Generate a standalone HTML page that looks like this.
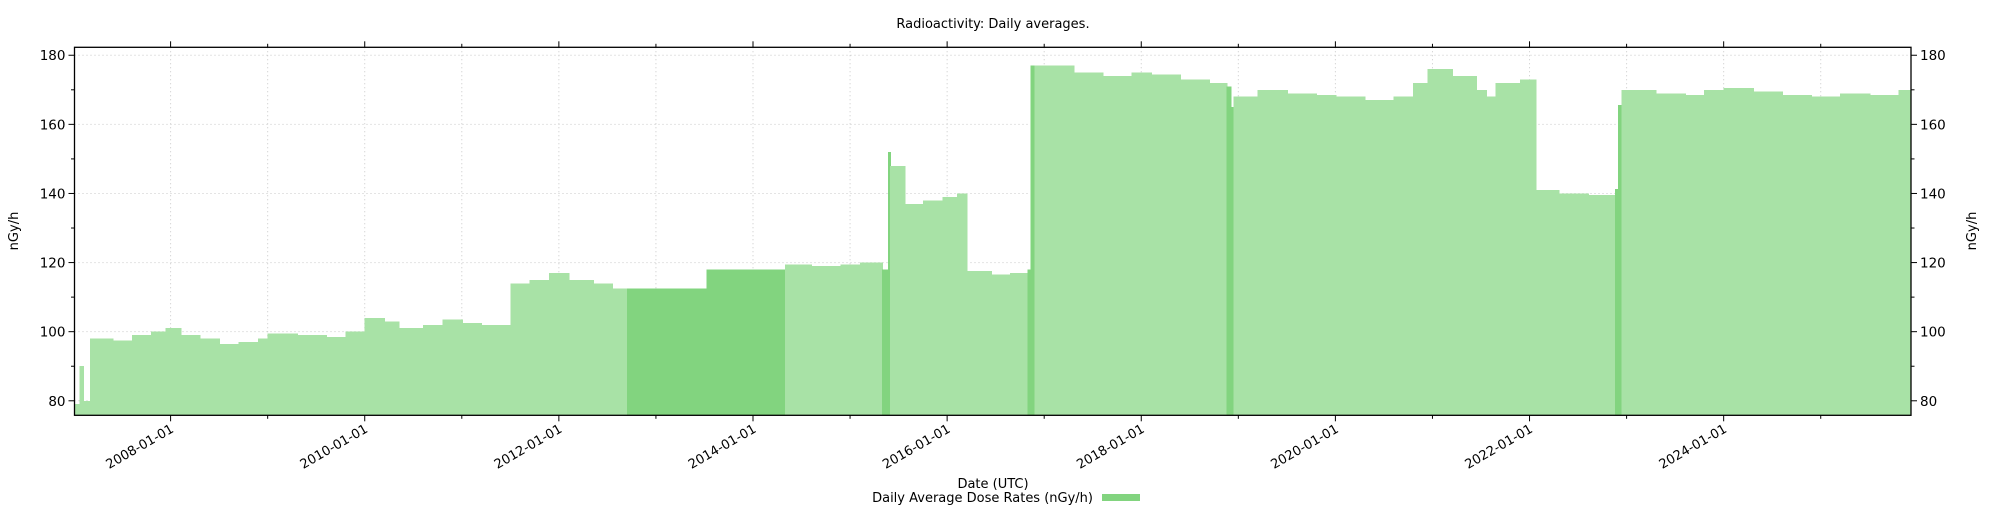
<!DOCTYPE html>
<html><head><meta charset="utf-8">
<style>
html,body{margin:0;padding:0;background:#fff;}
svg{display:block;}
text{font-family:"DejaVu Sans","Liberation Sans",sans-serif;fill:#000;}
</style></head>
<body>
<svg id="chart" width="2000" height="512" xmlns="http://www.w3.org/2000/svg">
<text x="993" y="28" font-size="13" text-anchor="middle">Radioactivity: Daily averages.</text>
<g id="grid"></g>
<g id="bars" shape-rendering="crispEdges"></g>
<g id="axes"></g>
<text transform="translate(18,231) rotate(-90)" font-size="13" text-anchor="middle">nGy/h</text>
<text transform="translate(1976,231) rotate(-90)" font-size="13" text-anchor="middle">nGy/h</text>
<text x="993" y="488" font-size="13" text-anchor="middle">Date (UTC)</text>
<g>
<text x="1093" y="502" font-size="13" text-anchor="end">Daily Average Dose Rates (nGy/h)</text>
<rect x="1102" y="494" width="38" height="7" fill="#82d47f"></rect>
</g>
</svg>
<script>
const segStart = [2007.00,2007.06,2007.10,2007.17,2007.4,2007.6,2007.8,2007.95,2008.1,2008.3,2008.5,2008.7,2008.9,2009.0,2009.3,2009.6,2009.8,2010.0,2010.2,2010.35,2010.6,2010.8,2011.0,2011.2,2011.5,2011.7,2011.9,2012.1,2012.35,2012.55,2012.70,2013.52,2014.33,2014.6,2014.9,2015.1,2015.33,2015.39,2015.41,2015.56,2015.75,2015.95,2016.1,2016.2,2016.45,2016.65,2016.83,2016.86,2016.90,2017.1,2017.3,2017.6,2017.9,2018.1,2018.4,2018.7,2018.88,2018.92,2018.95,2019.2,2019.5,2019.8,2020.0,2020.3,2020.6,2020.8,2020.95,2021.2,2021.45,2021.55,2021.65,2021.9,2022.06,2022.3,2022.6,2022.88,2022.91,2022.95,2023.3,2023.6,2023.8,2024.0,2024.3,2024.6,2024.9,2025.2,2025.5,2025.8];
const segValue = [79,90,80,98,97.5,99,100,101,99,98,96.5,97,98,99.5,99,98.5,100,104,103,101,102,103.5,102.5,102,114,115,117,115,114,112.5,112.5,118,119.5,119,119.5,120,118,152,148,137,138,139,140,117.5,116.5,117,118,177,177,177,175,174,175,174.5,173,172,171,165,168,170,169,168.5,168,167,168,172,176,174,170,168,172,173,141,140,139.5,141.3,165.6,170,169,168.5,170,170.5,169.5,168.5,168,169,168.5,170];
const segKind = ["l","l","l","l","l","l","l","l","l","l","l","l","l","l","l","l","l","l","l","l","l","l","l","l","l","l","l","l","l","l","d","d","l","l","l","l","d","d","l","l","l","l","l","l","l","l","d","d","l","l","l","l","l","l","l","l","d","d","l","l","l","l","l","l","l","l","l","l","l","l","l","l","l","l","l","d","d","l","l","l","l","l","l","l","l","l","l","l"];
const seriesEnd = 2025.93;
const yTicks = [80,100,120,140,160,180];
const yMinorTicks = [90,110,130,150,170];
const xTickYears = [2008,2010,2012,2014,2016,2018,2020,2022,2024];
const xTickLabels = ["2008-01-01","2010-01-01","2012-01-01","2014-01-01","2016-01-01","2018-01-01","2020-01-01","2022-01-01","2024-01-01"];
const xMinorYears = [2009,2011,2013,2015,2017,2019,2021,2023,2025];

const L=74.5,R=1911,T=47.3,B=415.3;
const xMin=2007.01, xMax=2025.93, yMin=75.8, yMax=182.3;
const x=v=>L+(v-xMin)/(xMax-xMin)*(R-L);
const y=v=>B-(v-yMin)/(yMax-yMin)*(B-T);
const NS="http://www.w3.org/2000/svg";
function mk(tag,attrs,parent){const e=document.createElementNS(NS,tag);for(const k in attrs)e.setAttribute(k,attrs[k]);parent.appendChild(e);return e;}
const grid=document.getElementById('grid'),bars=document.getElementById('bars'),axes=document.getElementById('axes');

yTicks.forEach(v=>{
  const g=mk('line',{x1:L,x2:R,y1:y(v),y2:y(v),stroke:'#c8c8c8','stroke-width':1,'stroke-dasharray':'1,3'},grid);
  
  
});
xTickYears.concat(xMinorYears).forEach(v=>{
  if(x(v)>R)return;
  const g=mk('line',{x1:x(v),x2:x(v),y1:T,y2:B,stroke:'#c8c8c8','stroke-width':1,'stroke-dasharray':'1,3'},grid);
  
  
});

for(let i=0;i<segStart.length;i++){
  const s=Math.max(segStart[i],xMin), e=(i+1<segStart.length?segStart[i+1]:seriesEnd);
  const x0=x(s), x1=x(e), yt=y(segValue[i]);
  const w=(i+1<segStart.length)?Math.max(x1-x0+1,1.5):Math.max(x1-x0,1);
  const r=mk('rect',{x:x0,y:yt,width:w,height:B-yt,fill:segKind[i]==='d'?'#82d47f':'#a8e2a6'},bars);
  
  
}
// redraw dark bars on top so overlaps don't hide them
for(let i=0;i<segStart.length;i++){
  if(segKind[i]!=='d')continue;
  const x0=x(segStart[i]), x1=x(segStart[i+1]), yt=y(segValue[i]);
  const r=mk('rect',{x:x0,y:yt,width:Math.max(x1-x0,1.5),height:B-yt,fill:'#82d47f'},bars);
  
  
}

const frame=mk('rect',{x:L,y:T,width:R-L,height:B-T,fill:'none',stroke:'#000','stroke-width':1.3},axes);



yTicks.forEach(v=>{
  mk('line',{x1:L-6,x2:L,y1:y(v),y2:y(v),stroke:'#000'},axes);
  mk('line',{x1:R,x2:R+6,y1:y(v),y2:y(v),stroke:'#000'},axes);
  const t1=mk('text',{x:L-9,y:y(v)+5,'font-size':13.5,'text-anchor':'end'},axes);t1.textContent=v;
  
  
  const t2=mk('text',{x:R+9,y:y(v)+5,'font-size':13.5,'text-anchor':'start'},axes);t2.textContent=v;
  
  
});
yMinorTicks.forEach(v=>{
  mk('line',{x1:L-3.5,x2:L,y1:y(v),y2:y(v),stroke:'#000'},axes);
  mk('line',{x1:R,x2:R+3.5,y1:y(v),y2:y(v),stroke:'#000'},axes);
});
xTickYears.forEach((v,i)=>{
  const xv=x(v);
  mk('line',{x1:xv,x2:xv,y1:B,y2:B+6,stroke:'#000'},axes);
  mk('line',{x1:xv,x2:xv,y1:T-6,y2:T,stroke:'#000'},axes);
  const t=mk('text',{transform:`translate(${xv+4},${B+16}) rotate(-30)`,'font-size':13,'text-anchor':'end'},axes);
  t.textContent=xTickLabels[i];
  
  
});
xMinorYears.forEach(v=>{
  const xv=x(v); if(xv>R)return;
  mk('line',{x1:xv,x2:xv,y1:B,y2:B+3.5,stroke:'#000'},axes);
  mk('line',{x1:xv,x2:xv,y1:T-3.5,y2:T,stroke:'#000'},axes);
});
</script>
</body></html>
